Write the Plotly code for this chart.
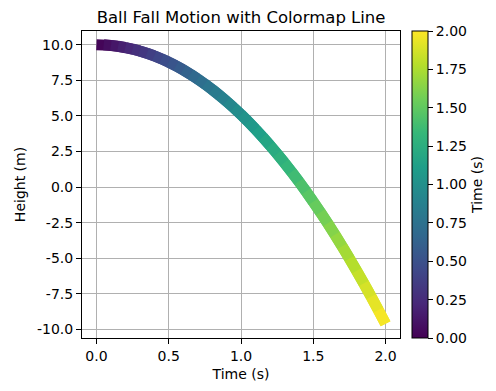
import plotly.graph_objects as go
from plotly.colors import sample_colorscale

# Data
time_s = [0.00, 0.05, 0.10, 0.15, 0.20, 0.25, 0.30, 0.35, 0.40, 0.45,
          0.50, 0.55, 0.60, 0.65, 0.70, 0.75, 0.80, 0.85, 0.90, 0.95,
          1.00, 1.05, 1.10, 1.15, 1.20, 1.25, 1.30, 1.35, 1.40, 1.45,
          1.50, 1.55, 1.60, 1.65, 1.70, 1.75, 1.80, 1.85, 1.90, 1.95, 2.00]
height_m = [10.00, 9.99, 9.95, 9.89, 9.80, 9.69, 9.56, 9.40, 9.22, 9.01,
            8.78, 8.52, 8.24, 7.93, 7.60, 7.24, 6.86, 6.46, 6.03, 5.58,
            5.10, 4.60, 4.07, 3.52, 2.94, 2.34, 1.72, 1.07, 0.40, -0.30,
            -1.03, -1.77, -2.54, -3.34, -4.16, -5.01, -5.88, -6.77, -7.69, -8.63, -9.60]
x_ticks = [0.0, 0.5, 1.0, 1.5, 2.0]
y_ticks = [-10.0, -7.5, -5.0, -2.5, 0.0, 2.5, 5.0, 7.5, 10.0]
cbar_ticks = [0.00, 0.25, 0.50, 0.75, 1.00, 1.25, 1.50, 1.75, 2.00]

FONT = "DejaVu Sans"
tmin, tmax = 0.0, 2.0

fig = go.Figure()
n = len(time_s)
mids = [(time_s[i] + time_s[i + 1]) / 2 for i in range(n - 1)]
colors = sample_colorscale("Viridis", [(m - tmin) / (tmax - tmin) for m in mids])
for i in range(n - 1):
    j = min(i + 3, n)
    fig.add_trace(go.Scatter(
        x=time_s[i:j], y=height_m[i:j],
        mode="lines", line=dict(color=colors[i], width=11),
        showlegend=False, hoverinfo="skip"))

# colorbar carrier
fig.add_trace(go.Scatter(
    x=[time_s[0]], y=[height_m[0]], mode="markers",
    marker=dict(size=0.1, opacity=0, color=[0], cmin=tmin, cmax=tmax,
                colorscale="Viridis", showscale=True,
                colorbar=dict(
                    x=1.037, xanchor="left", xref="paper", xpad=0, ypad=0,
                    y=0.5, yanchor="middle", len=1, lenmode="fraction",
                    thickness=16, thicknessmode="pixels",
                    outlinewidth=1, outlinecolor="black",
                    tickvals=cbar_ticks, ticktext=[f"{v:.2f}" for v in cbar_ticks],
                    ticks="outside", ticklen=5, tickcolor="black",
                    tickfont=dict(family=FONT, size=14, color="black"),
                    title=dict(text="Time (s)", side="right",
                               font=dict(family=FONT, size=14, color="black")),
                )),
    showlegend=False, hoverinfo="skip"))

axis_common = dict(
    showline=True, linecolor="black", linewidth=1, mirror=True,
    ticks="outside", ticklen=5, tickcolor="black", tickwidth=1,
    showgrid=True, gridcolor="#b0b0b0", gridwidth=0.8,
    zeroline=False, automargin=False,
    tickfont=dict(family=FONT, size=14, color="black"),
)
fig.update_xaxes(range=[-0.1, 2.1], tickvals=x_ticks,
                 ticktext=[f"{v:.1f}" for v in x_ticks],
                 title=dict(text="Time (s)", standoff=6,
                            font=dict(family=FONT, size=14, color="black")),
                 **axis_common)
fig.update_yaxes(range=[-10.6, 10.96], tickvals=y_ticks,
                 ticktext=[f"{v:.1f}" for v in y_ticks],
                 title=dict(text="Height (m)", standoff=8,
                            font=dict(family=FONT, size=14, color="black")),
                 **axis_common)

fig.update_layout(
    width=496, height=391,
    margin=dict(l=82, r=96, t=31, b=53, autoexpand=False),
    paper_bgcolor="white", plot_bgcolor="white",
    title=dict(text="Ball Fall Motion with Colormap Line", x=0.486, xanchor="center",
               y=1 - 17 / 391, yanchor="middle",
               font=dict(family=FONT, size=16.5, color="black")),
    font=dict(family=FONT, color="black"),
)

fig.write_html(
    "out.html",
    config={"displayModeBar": False},
    post_script="document.body.style.margin='0';document.body.style.overflow='hidden';",
)
